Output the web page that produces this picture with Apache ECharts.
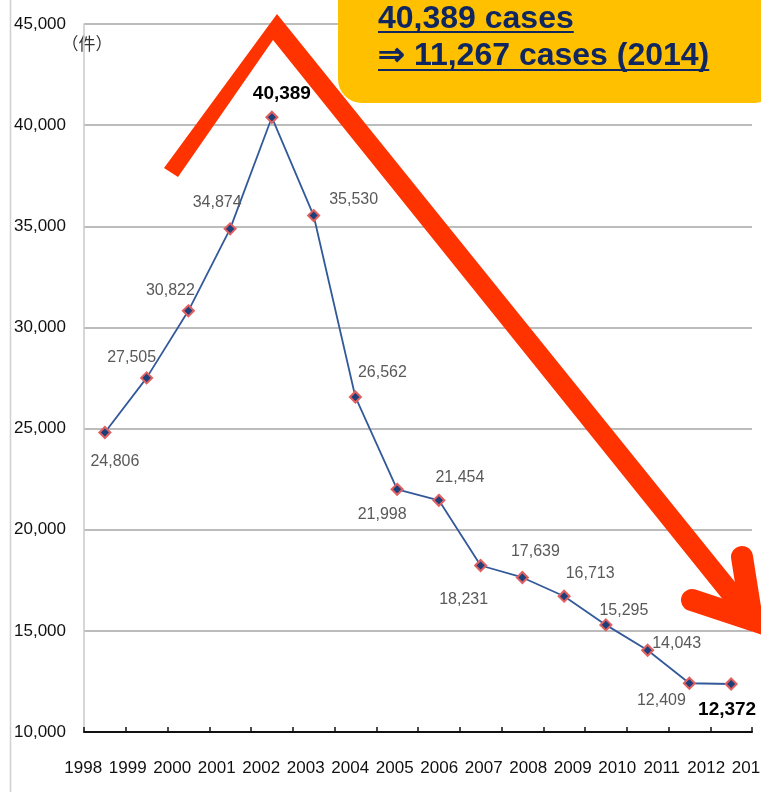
<!DOCTYPE html>
<html>
<head>
<meta charset="utf-8">
<script src="https://cdn.jsdelivr.net/npm/echarts@6/dist/echarts.min.js"></script>
<style>
  html, body { margin: 0; padding: 0; background: #fff; }
  #chart { width: 761px; height: 792px; }
</style>
</head>
<body>
<div id="chart"></div>
<script>
// 年度
const years = ['1998', '1999', '2000', '2001', '2002', '2003', '2004', '2005',
  '2006', '2007', '2008', '2009', '2010', '2011', '2012', '2013'];
// 件数
const cases = [24806, 27505, 30822, 34874, 40389, 35530, 26562, 21998,
  21454, 18231, 17639, 16713, 15295, 14043, 12409, 12372];
// y軸
const yMin = 10000;
const yMax = 45000;
const yStep = 5000;
// 吹き出しの文言
const noteLines = ['40,389 cases', '\u21D2 11,267 cases (2014)'];

// ラベル位置（点からのずれ）
const labelOffsets = [[10, 29], [-15, -20], [-18, -20], [-13, -26], [10, -24], [40, -16],
  [27, -24], [-15, 25], [21, -23], [-17, 34], [13, -26], [26, -23], [18, -14],
  [29, -7], [-28, 17], [-4, 26]];
const boldIdx = [4, 15];

const baseFont = '"Liberation Sans", Arial, sans-serif';
const noteFont = 'bold 32px "Liberation Sans", Arial, sans-serif';

function textWidth(text, font) {
  const c = document.createElement('canvas').getContext('2d');
  c.font = font;
  return c.measureText(text).width;
}

const seriesData = cases.map(function (v, i) {
  const bold = boldIdx.indexOf(i) >= 0;
  return {
    value: v,
    label: {
      offset: labelOffsets[i],
      color: bold ? '#000' : '#595959',
      fontWeight: bold ? 'bold' : 'normal',
      fontSize: bold ? 19 : 16
    }
  };
});

const chart = echarts.init(document.getElementById('chart'), null, { renderer: 'canvas' });

const noteX = 378;
const noteY = [19, 56];
const ulY = [32, 70];

chart.setOption({
  backgroundColor: '#fff',
  animation: false,
  grid: [
    { left: 84, right: 9, top: 24, bottom: 60, containLabel: false, outerBoundsMode: 'none' },
    { left: 61, right: -12, top: 24, bottom: 60, containLabel: false, outerBoundsMode: 'none' }
  ],
  xAxis: [
    {
      type: 'category',
      gridIndex: 0,
      data: years,
      boundaryGap: true,
      axisLine: { show: true, lineStyle: { color: '#111', width: 2 } },
      axisTick: { show: true, inside: true, length: 5, lineStyle: { color: '#111', width: 1.5 } },
      axisLabel: { show: false },
      splitLine: { show: false }
    },
    {
      type: 'category',
      gridIndex: 1,
      data: years,
      boundaryGap: true,
      axisLine: { show: false },
      axisTick: { show: false },
      axisLabel: {
        show: true,
        interval: 0,
        margin: 28,
        color: '#111',
        fontSize: 17,
        fontFamily: baseFont
      },
      splitLine: { show: false }
    }
  ],
  yAxis: [
    {
      type: 'value',
      gridIndex: 0,
      min: yMin,
      max: yMax,
      interval: yStep,
      name: '\uFF08件\uFF09',
      nameLocation: 'end',
      nameGap: -28,
      nameTextStyle: {
        color: '#333',
        fontSize: 17,
        align: 'center',
        fontFamily: '"Noto Sans CJK JP", sans-serif',
        padding: [0, 0, 0, 6]
      },
      axisLine: { show: true, lineStyle: { color: '#c8c8c8', width: 1.5 } },
      axisTick: { show: false },
      axisLabel: {
        color: '#111',
        fontSize: 17,
        margin: 18,
        fontFamily: baseFont,
        formatter: function (v) { return v.toLocaleString('en-US'); }
      },
      splitLine: {
        show: true,
        lineStyle: { color: '#a6a6a6', width: 1.5 }
      }
    },
    {
      type: 'value',
      gridIndex: 1,
      show: false,
      min: yMin,
      max: yMax
    }
  ],
  series: [
    {
      type: 'line',
      xAxisIndex: 0,
      yAxisIndex: 0,
      data: seriesData,
      symbol: 'diamond',
      symbolSize: 11,
      lineStyle: { color: '#33599A', width: 1.8 },
      itemStyle: { color: '#1F3F7A', borderColor: '#E06060', borderWidth: 2 },
      label: {
        show: true,
        position: 'inside',
        fontFamily: baseFont,
        formatter: function (p) { return p.value.toLocaleString('en-US'); }
      },
      z: 3
    }
  ],
  graphic: [
    // 左枠
    { type: 'line', z: 1, shape: { x1: 10.5, y1: 0, x2: 10.5, y2: 792 }, style: { stroke: '#d0d0d0', lineWidth: 1.5 } },
    // 矢印（軸部分）
    {
      type: 'polygon', z: 100,
      shape: { points: [[164, 168], [277, 14], [760, 613], [745, 627], [273, 40], [178, 177]] },
      style: { fill: '#FF3300' }
    },
    // 矢印（先端）
    {
      type: 'polyline', z: 100,
      shape: { points: [[692, 600], [752, 620], [742, 557]] },
      style: { stroke: '#FF3300', lineWidth: 22, lineJoin: 'miter', lineCap: 'round', fill: null }
    },
    // 吹き出し
    {
      type: 'rect', z: 110,
      shape: { x: 338, y: -40, width: 440, height: 143, r: 24 },
      style: { fill: '#FFC000' }
    },
    {
      type: 'text', z: 111, x: noteX, y: noteY[0],
      style: { text: noteLines[0], font: noteFont, fill: '#0F2660', verticalAlign: 'middle', align: 'left' }
    },
    {
      type: 'text', z: 111, x: noteX, y: noteY[1],
      style: { text: noteLines[1], font: noteFont, fill: '#0F2660', verticalAlign: 'middle', align: 'left' }
    },
    {
      type: 'line', z: 111,
      shape: { x1: noteX, y1: ulY[0], x2: noteX + textWidth(noteLines[0], noteFont), y2: ulY[0] },
      style: { stroke: '#0F2660', lineWidth: 2 }
    },
    {
      type: 'line', z: 111,
      shape: { x1: noteX, y1: ulY[1], x2: noteX + textWidth(noteLines[1], noteFont), y2: ulY[1] },
      style: { stroke: '#0F2660', lineWidth: 2 }
    }
  ]
});

window.addEventListener('resize', function () {
  chart.resize();
});
</script>
</body>
</html>
